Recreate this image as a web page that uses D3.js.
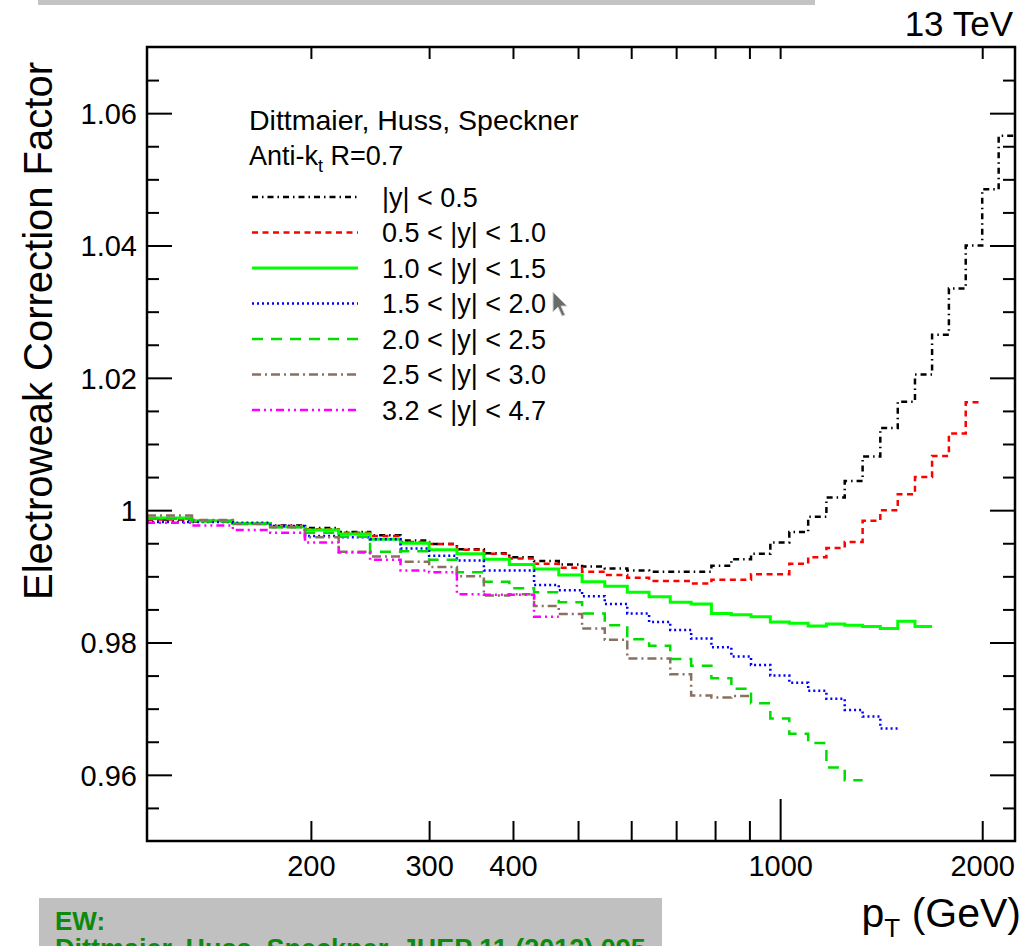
<!DOCTYPE html>
<html>
<head>
<meta charset="utf-8">
<script src="https://cdn.jsdelivr.net/npm/d3@7"></script>
<style>
  body { margin: 0; background: #fff; }
  text { font-family: "Liberation Sans", Arial, sans-serif; }
</style>
</head>
<body>
<svg id="chart"></svg>
<script>
// pT bin edges (GeV)
const binEdges = [114, 133, 153, 174, 196, 220, 245, 272, 300, 330, 362, 395, 430, 468, 507, 548, 592, 638, 686, 737, 790,
  846, 905, 967, 1032, 1101, 1172, 1248, 1327, 1410, 1497, 1588, 1684, 1784, 1890, 2000, 2116, 2238];

const seriesNames = ["|y| < 0.5", "0.5 < |y| < 1.0", "1.0 < |y| < 1.5", "1.5 < |y| < 2.0",
  "2.0 < |y| < 2.5", "2.5 < |y| < 3.0", "3.2 < |y| < 4.7"];

// EW correction per bin, starting at the first edge
const ewY00 = [0.9986, 0.9983, 0.9980, 0.9977, 0.9973, 0.9967, 0.9962, 0.9954, 0.9949, 0.9941, 0.9935, 0.9929, 0.9923,
  0.9918, 0.9915, 0.9912, 0.9909, 0.9907, 0.9907, 0.9907, 0.9916, 0.9926, 0.9934, 0.9951, 0.9967, 0.9990, 1.0019,
  1.0044, 1.0081, 1.0124, 1.0164, 1.0205, 1.0265, 1.0335, 1.0400, 1.0485, 1.0566];
const ewY05 = [0.9986, 0.9984, 0.9980, 0.9976, 0.9971, 0.9966, 0.9961, 0.9952, 0.9949, 0.9940, 0.9934, 0.9927, 0.9919,
  0.9913, 0.9907, 0.9902, 0.9898, 0.9893, 0.9893, 0.9889, 0.9895, 0.9895, 0.9903, 0.9903, 0.9919, 0.9929, 0.9943,
  0.9952, 0.9984, 1.0000, 1.0024, 1.0050, 1.0082, 1.0116, 1.0163];
const ewY10 = [0.9988, 0.9984, 0.9980, 0.9975, 0.9970, 0.9964, 0.9956, 0.9950, 0.9940, 0.9934, 0.9926, 0.9918, 0.9911,
  0.9902, 0.9892, 0.9885, 0.9876, 0.9869, 0.9861, 0.9858, 0.9844, 0.9842, 0.9839, 0.9831, 0.9829, 0.9825, 0.9828,
  0.9826, 0.9824, 0.9821, 0.9832, 0.9824];
const ewY15 = [0.9982, 0.9982, 0.9981, 0.9976, 0.9961, 0.9959, 0.9956, 0.9942, 0.9931, 0.9924, 0.9909, 0.9909, 0.9887,
  0.9879, 0.9870, 0.9858, 0.9844, 0.9831, 0.9819, 0.9806, 0.9793, 0.9779, 0.9766, 0.9750, 0.9739, 0.9727, 0.9715,
  0.9698, 0.9688, 0.9670];
const ewY20 = [0.9987, 0.9983, 0.9979, 0.9974, 0.9966, 0.9960, 0.9937, 0.9938, 0.9925, 0.9906, 0.9892, 0.9882, 0.9876,
  0.9861, 0.9844, 0.9826, 0.9805, 0.9795, 0.9775, 0.9765, 0.9746, 0.9730, 0.9708, 0.9685, 0.9662, 0.9648, 0.9611, 0.9592];
const ewY25 = [0.9992, 0.9985, 0.9979, 0.9974, 0.9959, 0.9937, 0.9930, 0.9922, 0.9914, 0.9900, 0.9871, 0.9873, 0.9855,
  0.9843, 0.9821, 0.9804, 0.9776, 0.9776, 0.9752, 0.9720, 0.9717, 0.9719];
const ewY32 = [0.9981, 0.9977, 0.9970, 0.9966, 0.9951, 0.9936, 0.9925, 0.9909, 0.9906, 0.9873, 0.9872, 0.9872, 0.9839];

const allSeries = [ewY00, ewY05, ewY10, ewY15, ewY20, ewY25, ewY32];

const xTickValues = [200, 300, 400, 500, 600, 700, 800, 900, 1000, 2000];
const xTickLabels = [200, 300, 400, 1000, 2000];
const yTickLabels = [0.96, 0.98, 1.00, 1.02, 1.04, 1.06];

// line styles (ROOT-like)
const styles = [
  {color: "#000000", dash: "6,4,1.5,4", w: 2.5},
  {color: "#ff0000", dash: "6,4.5", w: 2.5},
  {color: "#00ff00", dash: null, w: 3},
  {color: "#0000ff", dash: "2,3", w: 2.5},
  {color: "#00dd00", dash: "11,8", w: 2.5},
  {color: "#8a705f", dash: "9,4,2,4", w: 2.5},
  {color: "#ff00ff", dash: "8,4,2,4,2,4", w: 2.5}
];

const W = 1033, H = 946;
const margin = {top: 47, right: 18, bottom: 105, left: 147};
const plotW = W - margin.left - margin.right,
  plotH = H - margin.top - margin.bottom;

const svg = d3.select("#chart").attr("width", W).attr("height", H);
svg.append("rect").attr("width", W).attr("height", H).attr("fill", "#fff");

// screenshot leftovers: gray bar top, gray note box bottom
svg.append("rect").attr("x", 38).attr("y", 0).attr("width", 777).attr("height", 5).attr("fill", "#c4c4c4");
svg.append("rect").attr("x", 39).attr("y", 898).attr("width", 623).attr("height", 60).attr("fill", "#c0c0c0");
svg.append("text").attr("x", 55).attr("y", 930).attr("font-size", 26).attr("font-weight", "bold")
  .attr("fill", "#0b8a0b").text("EW:");
svg.append("text").attr("x", 55).attr("y", 958).attr("font-size", 27).attr("font-weight", "bold")
  .attr("fill", "#0b8a0b").text("Dittmaier, Huss, Speckner, JHEP 11 (2012) 095");

const x = d3.scaleLog().domain([114, 2238]).range([margin.left, margin.left + plotW]);
const y = d3.scaleLinear().domain([0.95, 1.07]).range([margin.top + plotH, margin.top]);

const g = svg.append("g");

// series as step histograms
const line = d3.line().x(d => x(d.x)).y(d => y(d.y)).curve(d3.curveStepAfter);
allSeries.forEach((vals, i) => {
  const pts = vals.map((v, j) => ({x: binEdges[j], y: v}));
  pts.push({x: binEdges[vals.length], y: vals[vals.length - 1]});
  g.append("path")
    .attr("d", line(pts))
    .attr("fill", "none")
    .attr("stroke", styles[i].color)
    .attr("stroke-width", styles[i].w)
    .attr("stroke-dasharray", styles[i].dash);
});

// axes (ticks pointing inward)
const yMinor = d3.range(0, 25).map(i => +(0.95 + i * 0.005).toFixed(3)).filter(v => v > 0.95 && v < 1.07);
const isMajorY = v => yTickLabels.some(t => Math.abs(t - v) < 1e-6);
const fmtY = v => (Math.abs(v - 1) < 1e-9 ? "1" : d3.format(".2f")(v));

const yLeft = svg.append("g").attr("transform", `translate(${margin.left},0)`)
  .call(d3.axisLeft(y).tickValues(yMinor).tickSize(-12)
    .tickFormat(v => isMajorY(v) ? fmtY(v) : ""));
yLeft.selectAll(".tick").filter(v => isMajorY(v)).select("line").attr("x2", 25);

const yRight = svg.append("g").attr("transform", `translate(${margin.left + plotW},0)`)
  .call(d3.axisRight(y).tickValues(yMinor).tickSize(-12).tickFormat(""));
yRight.selectAll(".tick").filter(v => isMajorY(v)).select("line").attr("x2", -25);

const xBottom = svg.append("g").attr("transform", `translate(0,${margin.top + plotH})`)
  .call(d3.axisBottom(x).tickValues(xTickValues).tickSize(-20)
    .tickFormat(v => xTickLabels.includes(v) ? v : ""));
xBottom.selectAll(".tick").filter(v => v === 1000).select("line").attr("y2", -42);

const xTop = svg.append("g").attr("transform", `translate(0,${margin.top})`)
  .call(d3.axisTop(x).tickValues(xTickValues).tickSize(-12).tickFormat(""));

svg.selectAll(".domain").remove();
svg.selectAll(".tick line").attr("stroke", "#000").attr("stroke-width", 2);
svg.selectAll(".tick text").attr("font-size", 29).attr("fill", "#000")
  .style("font-family", "'Liberation Sans', Arial, sans-serif");
yLeft.selectAll(".tick text").attr("text-anchor", "end").attr("dx", 0).attr("x", -10).attr("dy", "0.36em");
xBottom.selectAll(".tick text").attr("dy", 0).attr("y", 35);

// frame
svg.append("rect").attr("x", margin.left).attr("y", margin.top).attr("width", plotW).attr("height", plotH)
  .attr("fill", "none").attr("stroke", "#000").attr("stroke-width", 2.5);

// titles
svg.append("text").attr("transform", `translate(52,331) rotate(-90)`).attr("text-anchor", "middle")
  .attr("font-size", 40).text("Electroweak Correction Factor");
svg.append("text").attr("x", 1013).attr("y", 36).attr("text-anchor", "end").attr("font-size", 35).text("13 TeV");
const xt = svg.append("text").attr("x", 1021).attr("y", 927).attr("text-anchor", "end").attr("font-size", 41);
xt.append("tspan").text("p");
xt.append("tspan").attr("font-size", 26).attr("dy", 10).text("T");
xt.append("tspan").attr("dy", -10).text(" (GeV)");

// legend
const lg = svg.append("g");
lg.append("text").attr("x", 249).attr("y", 130).attr("font-size", 28.5).text("Dittmaier, Huss, Speckner");
const ak = lg.append("text").attr("x", 249).attr("y", 165).attr("font-size", 27);
ak.append("tspan").text("Anti-k");
ak.append("tspan").attr("font-size", 18).attr("dy", 7).text("t");
ak.append("tspan").attr("dy", -7).text(" R=0.7");

seriesNames.forEach((name, i) => {
  const cy = 197 + i * 35.5;
  lg.append("line").attr("x1", 252).attr("x2", 358).attr("y1", cy).attr("y2", cy)
    .attr("stroke", styles[i].color).attr("stroke-width", styles[i].w)
    .attr("stroke-dasharray", styles[i].dash);
  lg.append("text").attr("x", 382).attr("y", cy + 9.5).attr("font-size", 27).text(name);
});

// mouse pointer visible in the screenshot
svg.append("path")
  .attr("d", "M553,292 L553,312 L558,307 L562,316 L565,315 L561,306 L567,306 Z")
  .attr("fill", "#6b6b6b").attr("stroke", "#d0d0d0").attr("stroke-width", 1);
</script>
</body>
</html>
